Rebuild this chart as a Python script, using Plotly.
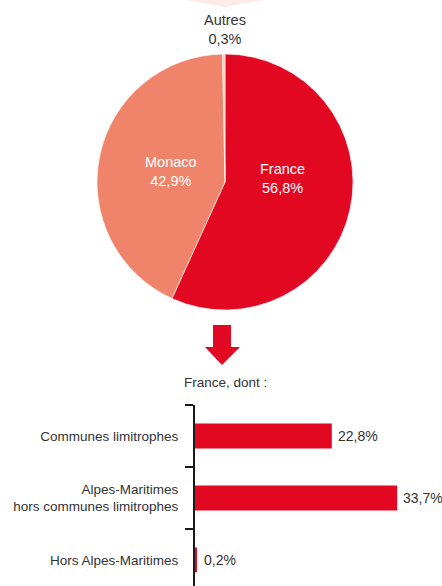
import plotly.graph_objects as go

# Répartition par lieu de résidence
pie_labels = ["France", "Monaco", "Autres"]
pie_values = [56.8, 42.9, 0.3]
pie_colors = ["#e30822", "#ef846b", "#f8c8b7"]

# Détail pour la France
bar_categories = [
    "Communes limitrophes",
    "Alpes-Maritimes<br>hors communes limitrophes",
    "Hors Alpes-Maritimes",
]
bar_values = [22.8, 33.7, 0.2]

W, H = 442, 586
FONT = "Liberation Sans, Arial, Helvetica, sans-serif"
RED = "#e30822"
TXT = "#333333"


def px(x):
    return x / W


def py(y):
    return 1 - y / H


def fr(v):
    return f"{v:.1f}".replace(".", ",") + "%"


fig = go.Figure()

fig.add_trace(go.Pie(
    labels=pie_labels,
    values=pie_values,
    sort=False,
    direction="clockwise",
    rotation=0,
    marker=dict(colors=pie_colors, line=dict(color="white", width=0.6)),
    textinfo="none",
    hoverinfo="label+percent",
    showlegend=False,
    domain=dict(x=[px(97), px(353)], y=[py(310), py(54)]),
))

fig.add_trace(go.Bar(
    x=bar_values,
    y=bar_categories,
    orientation="h",
    marker=dict(color=RED, line=dict(width=0)),
    width=0.4,
    xaxis="x",
    yaxis="y",
    showlegend=False,
    hoverinfo="x+y",
))

annotations = []
# Étiquettes du camembert
pie_label_pos = {
    "France": (282, 178, "white"),
    "Monaco": (171, 172, "white"),
    "Autres": (225, 30, TXT),
}
for lab, val in zip(pie_labels, pie_values):
    x, y, col = pie_label_pos[lab]
    annotations.append(dict(
        x=px(x), y=py(y), xref="paper", yref="paper",
        text=f"{lab}<br>{fr(val)}", showarrow=False,
        font=dict(family=FONT, size=14.5, color=col),
        xanchor="center", yanchor="middle", align="center",
    ))

annotations.append(dict(
    x=px(225), y=py(382), xref="paper", yref="paper",
    text="France, dont :", showarrow=False,
    font=dict(family=FONT, size=13.5, color=TXT),
    xanchor="center", yanchor="middle",
))

# Valeurs des barres
for cat, val in zip(bar_categories, bar_values):
    annotations.append(dict(
        x=val, y=cat, xref="x", yref="y",
        text=fr(val), showarrow=False,
        font=dict(family=FONT, size=14, color=TXT),
        xanchor="left", yanchor="middle",
        xshift=4 if val > 1 else 6,
    ))

shapes = [
    # pointe claire en haut
    dict(type="path", xref="paper", yref="paper",
         path=f"M {px(186)} {py(0)} L {px(264)} {py(0)} L {px(225)} {py(7)} Z",
         fillcolor="#fdebe8", line=dict(width=0), layer="below"),
    # flèche rouge vers le détail
    dict(type="path", xref="paper", yref="paper",
         path=(f"M {px(213)} {py(325)} L {px(231)} {py(325)} L {px(231)} {py(347)} "
               f"L {px(240)} {py(347)} L {px(222)} {py(365)} L {px(205)} {py(347)} "
               f"L {px(213)} {py(347)} Z"),
         fillcolor=RED, line=dict(width=0)),
]

fig.update_layout(
    width=W, height=H,
    margin=dict(l=0, r=0, t=0, b=0, autoexpand=False),
    paper_bgcolor="white", plot_bgcolor="white",
    font=dict(family=FONT, size=13.5, color=TXT),
    annotations=annotations,
    shapes=shapes,
    xaxis=dict(domain=[px(195), 1], range=[0, (W - 195) / 6.0],
               visible=False, fixedrange=True, automargin=False),
    yaxis=dict(domain=[0, py(405)], type="category",
               categoryarray=bar_categories, range=[2.42, -0.5],
               tickson="boundaries", ticks="outside", ticklen=8,
               tickwidth=2, tickcolor="#1a1a1a",
               showline=True, linecolor="#1a1a1a", linewidth=2,
               showgrid=False, zeroline=False,
               ticklabelstandoff=12, automargin=False,
               tickfont=dict(family=FONT, size=13.5, color=TXT),
               anchor="x", fixedrange=True),
)

fig.write_html("out.html")
